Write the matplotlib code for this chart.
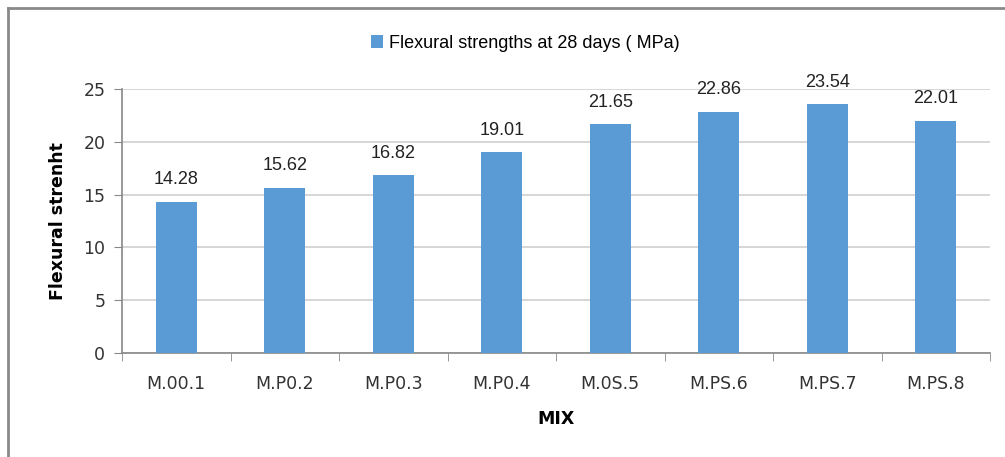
import matplotlib.pyplot as plt
from matplotlib.lines import Line2D

# data
mixes = ['M.00.1', 'M.P0.2', 'M.P0.3', 'M.P0.4', 'M.0S.5', 'M.PS.6', 'M.PS.7', 'M.PS.8']
flexural = [14.28, 15.62, 16.82, 19.01, 21.65, 22.86, 23.54, 22.01]
yticks = [0, 5, 10, 15, 20, 25]

plt.rcParams['font.family'] = ['Liberation Sans', 'DejaVu Sans']

fig = plt.figure(figsize=(10.05, 4.57), dpi=100)
ax = fig.add_axes([122 / 1005, 1 - 353 / 457, (990 - 122) / 1005, (353 - 89) / 457])

x = list(range(len(mixes)))
bars = ax.bar(x, flexural, width=0.38, color='#5B9BD5', zorder=3,
              label='Flexural strengths at 28 days ( MPa)')

for xi, v in zip(x, flexural):
    ax.text(xi, v + 1.3, f'{v:.2f}', ha='center', va='bottom', fontsize=13, color='#222222')

ax.set_xlim(-0.5, len(mixes) - 0.5)
ax.set_ylim(0, 25)
ax.set_yticks(yticks)
ax.set_yticklabels([str(t) for t in yticks], fontfamily='DejaVu Sans', fontsize=12.5, color='#333333')
ax.set_xticks(x)
ax.set_xticklabels(mixes, fontfamily='DejaVu Sans', fontsize=12.5, color='#333333')
ax.set_xticks([i - 0.5 for i in range(len(mixes) + 1)], minor=True)
ax.tick_params(axis='x', which='major', length=0, pad=16)
ax.tick_params(axis='x', which='minor', length=6, color='#888888', direction='out')
ax.tick_params(axis='y', length=6, color='#888888', pad=6)

ax.grid(axis='y', color='#D0D0D0', linewidth=1.2, zorder=0)
for s in ['top', 'right']:
    ax.spines[s].set_visible(False)
ax.spines['left'].set_color('#888888')
ax.spines['bottom'].set_color('#888888')
ax.spines['left'].set_linewidth(1.2)
ax.spines['bottom'].set_linewidth(1.2)

ax.set_xlabel('MIX', fontsize=12.5, fontweight='bold', fontfamily='DejaVu Sans', labelpad=12)
ax.set_ylabel('Flexural strenht', fontsize=12.5, fontweight='bold', fontfamily='DejaVu Sans', labelpad=12)

fig.legend(handles=[bars], loc='center', bbox_to_anchor=(525 / 1005, 1 - 43 / 457),
           frameon=False, fontsize=13, handlelength=0.7, handleheight=0.7, handletextpad=0.3)

# outer chart frame (left and top edges visible)
fig.add_artist(Line2D([8 / 1005, 1.0], [1 - 8 / 457, 1 - 8 / 457], color='#8A8A8A', linewidth=2))
fig.add_artist(Line2D([8 / 1005, 8 / 1005], [0, 1 - 8 / 457], color='#8A8A8A', linewidth=2))

fig.savefig('out.png', dpi=100)
